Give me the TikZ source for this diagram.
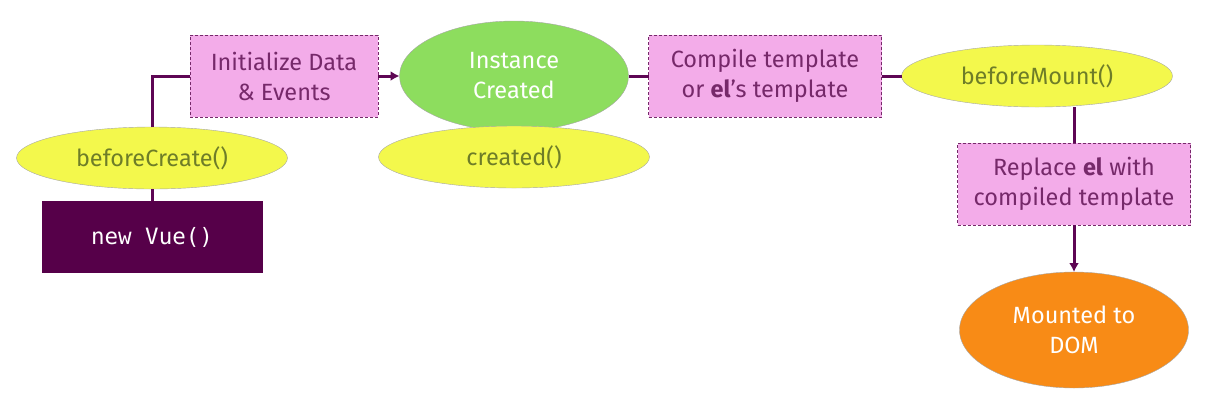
\documentclass[tikz,border=0pt]{standalone}
\usepackage{fontspec}
\setmainfont{Fira Sans}
\setmonofont{DejaVu Sans Mono}
\usetikzlibrary{positioning,shapes.geometric,arrows.meta}

\definecolor{vuepurple}{HTML}{560049}
\definecolor{linepurple}{HTML}{5E0654}
\definecolor{boxpink}{HTML}{F3ACE9}
\definecolor{boxtext}{HTML}{76296A}
\definecolor{hookyellow}{HTML}{F3F84C}
\definecolor{hooktext}{HTML}{6E7D28}
\definecolor{instgreen}{HTML}{8DDD5E}
\definecolor{domorange}{HTML}{F88B16}

\begin{document}
\begin{tikzpicture}
[x=1pt,y=1pt,
 every node/.style={inner sep=0pt,outer sep=0pt,align=center,font=\fontsize{23.5}{30}\selectfont},
 start/.style={rectangle,fill=vuepurple,text=white,minimum width=221pt,minimum height=72pt,font=\fontsize{22.5}{28}\selectfont\ttfamily},
 hook/.style={ellipse,draw=gray!70,fill=hookyellow,text=hooktext,minimum width=271pt,minimum height=62pt},
 proc/.style={rectangle,draw=boxtext,densely dashed,thin,fill=boxpink,text=boxtext,minimum width=188pt,minimum height=82pt},
 state/.style={ellipse,draw=gray!70,text=white,minimum width=229pt,minimum height=110pt},
 link/.style={draw=linepurple,line width=3pt},
 arr/.style={link,-{Latex[length=9pt,width=10pt]}}]
\useasboundingbox (0,0) rectangle (1223,-400);
\node[start] (vue) at (152,-237)                          {new Vue()};
\node[hook]  (bcreate) [on grid,above=79pt of vue]         {beforeCreate()};
\node[proc]  (init) [on grid,above right=161pt and 132pt of vue] {Initialize Data\\ \& Events};
\node[state,fill=instgreen] (inst) [on grid,right=230pt of init] {Instance\\ Created};
\node[hook]  (created) [on grid,below=81pt of inst]        {created()};
\node[proc,minimum width=233pt] (compile) [on grid,right=251pt of inst] {Compile template\\ or \textbf{el}’s template};
\node[hook]  (bmount) [on grid,right=272pt of compile]     {beforeMount()};
\node[proc,minimum width=233pt] (replace) [on grid,below right=108pt and 37pt of bmount] {Replace \textbf{el} with\\ compiled template};
\node[state,fill=domorange,minimum height=116pt] (mounted) [on grid,below=146pt of replace] {Mounted to\\ DOM};
\path[link] (vue) -- (bcreate);
\path[link] (bcreate) |- (init);
\path[arr]  (init) -- (inst);
\path[link] (inst) -- (compile);
\path[link] (compile) -- (bmount);
\path[link] (replace.north) -- (replace.north |- bmount.south);
\path[arr]  (replace) -- (mounted);
\end{tikzpicture}
\end{document}
